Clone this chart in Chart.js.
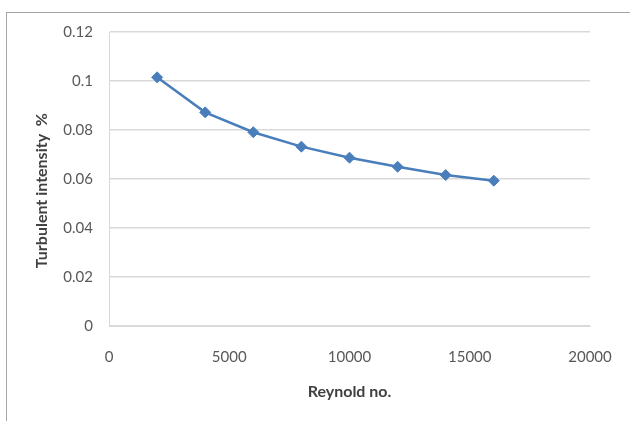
<!DOCTYPE html>
<html>
<head>
<meta charset="utf-8">
<script src="https://cdn.jsdelivr.net/npm/chart.js@4/dist/chart.umd.min.js"></script>
<style>
  html, body { margin: 0; padding: 0; background: #fff; }
  #wrap { position: relative; width: 630px; height: 421px; overflow: hidden; }
  #frame { position: absolute; left: 6px; top: 12px; width: 700px; height: 500px; border: 1px solid #a6a6a6; }
  canvas { position: absolute; left: 0; top: 0; }
</style>
</head>
<body>
<div id="wrap">
  <div id="frame"></div>
  <canvas id="chart" width="630" height="421"></canvas>
</div>
<script>
const reynolds = [2000, 4000, 6000, 8000, 10000, 12000, 14000, 16000];
const intensity = [0.1015, 0.0872, 0.0791, 0.0732, 0.0687, 0.0650, 0.0616, 0.0593];

const xTicks = [0, 5000, 10000, 15000, 20000];
const yTicks = [0, 0.02, 0.04, 0.06, 0.08, 0.1, 0.12];

const lineColor = '#4a7ebb';
const gridColor = '#d9d9d9';
const tickColor = '#595959';
const titleColor = '#404040';
const fontFamily = 'Lato, "Open Sans", sans-serif';

new Chart(document.getElementById('chart').getContext('2d'), {
  type: 'line',
  data: {
    datasets: [{
      label: 'Turbulent intensity',
      data: reynolds.map((x, i) => ({ x: x, y: intensity[i] })),
      borderColor: lineColor,
      backgroundColor: lineColor,
      borderWidth: 2.5,
      pointStyle: 'rectRot',
      pointRadius: 5.5,
      pointBorderWidth: 1,
      tension: 0
    }]
  },
  options: {
    responsive: false,
    animation: false,
    layout: { padding: { top: 32, right: 40, left: 0, bottom: 0 } },
    plugins: {
      legend: { display: false },
      tooltip: { enabled: false }
    },
    scales: {
      x: {
        type: 'linear',
        min: 0,
        max: 20000,
        afterBuildTicks: axis => { axis.ticks = xTicks.map(v => ({ value: v })); },
        afterFit: axis => {
          axis.height = 95;
          axis.paddingRight = 0;
          axis.paddingLeft = 0;
        },
        grid: { display: false, drawTicks: false },
        border: { display: true, color: gridColor, width: 1 },
        ticks: {
          color: tickColor,
          padding: 22,
          font: { family: fontFamily, size: 15 },
          maxRotation: 0,
          callback: v => String(v)
        },
        title: {
          display: true,
          text: 'Reynold no.',
          color: titleColor,
          font: { family: fontFamily, size: 16, weight: 'bold' },
          padding: { top: 0, bottom: 20 }
        }
      },
      y: {
        min: 0,
        max: 0.12,
        afterBuildTicks: axis => { axis.ticks = yTicks.map(v => ({ value: v })); },
        afterFit: axis => { axis.width = 109; },
        grid: { color: gridColor, lineWidth: 1.5, drawTicks: false },
        border: { display: true, color: gridColor, width: 1 },
        ticks: {
          color: tickColor,
          padding: 16,
          font: { family: fontFamily, size: 15 },
          callback: v => String(v)
        },
        title: {
          display: true,
          text: 'Turbulent intensity  %      ',
          color: titleColor,
          font: { family: fontFamily, size: 16, weight: 'bold' },
          padding: { top: 32, bottom: 0 }
        }
      }
    }
  }
});
</script>
</body>
</html>
